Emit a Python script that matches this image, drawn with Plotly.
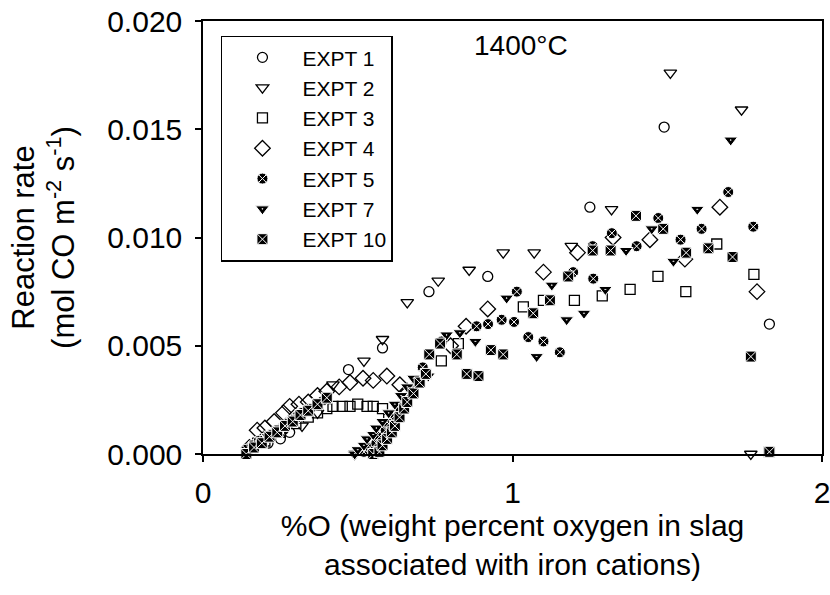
import plotly.graph_objects as go

# ---- data ----
x1 = [0.21, 0.25, 0.28, 0.47, 0.56, 0.58, 0.73, 0.92, 1.25, 1.49, 1.83]
y1 = [0.0005, 0.0007, 0.0010, 0.0039, 0.0003, 0.0049, 0.0075, 0.0082, 0.0114, 0.0151, 0.0060]

x2 = [0.18, 0.23, 0.27, 0.32, 0.37, 0.42, 0.49, 0.52, 0.55, 0.58, 0.66, 0.76, 0.86, 0.97, 1.07, 1.19, 1.32, 1.51, 1.74, 1.77]
y2 = [0.0006, 0.0009, 0.0012, 0.0013, 0.0019, 0.0032, 0.0000, 0.0043, 0.0002, 0.0053, 0.0070, 0.0080, 0.0085, 0.0093, 0.0093, 0.0096, 0.0113, 0.0176, 0.0159, 0.0000]

x3 = [0.20, 0.25, 0.30, 0.34, 0.37, 0.40, 0.42, 0.45, 0.475, 0.50, 0.53, 0.55, 0.58, 0.60, 0.77, 0.825, 1.035, 1.10, 1.20, 1.29, 1.38, 1.47, 1.56, 1.66, 1.78, 1.83]
y3 = [0.0006, 0.0010, 0.0014, 0.0017, 0.0019, 0.0021, 0.0022, 0.0022, 0.0022, 0.0023, 0.0022, 0.0022, 0.0021, 0.0016, 0.0043, 0.0051, 0.0068, 0.0071, 0.0071, 0.0073, 0.0076, 0.0082, 0.0075, 0.0097, 0.0083, 0.0001]

x4 = [0.15, 0.175, 0.20, 0.23, 0.26, 0.28, 0.31, 0.34, 0.37, 0.40, 0.44, 0.475, 0.517, 0.55, 0.594, 0.636, 0.66, 0.80, 0.85, 0.92, 1.10, 1.21, 1.325, 1.444, 1.557, 1.67, 1.79]
y4 = [0.0003, 0.0011, 0.0012, 0.0015, 0.0019, 0.0022, 0.0023, 0.0024, 0.0027, 0.0029, 0.0031, 0.0033, 0.0035, 0.0034, 0.0036, 0.0032, 0.0029, 0.0050, 0.0059, 0.0067, 0.0084, 0.0093, 0.0100, 0.0099, 0.0090, 0.0114, 0.0075]

x5 = [0.14, 0.16, 0.18, 0.20, 0.22, 0.24, 0.26, 0.28, 0.30, 0.32, 0.345, 0.37, 0.39,
      0.52, 0.54, 0.56, 0.57, 0.59, 0.60, 0.62, 0.63, 0.65, 0.67, 0.69, 0.71, 0.733, 0.771,
      0.884, 0.921, 0.965, 1.005, 1.014, 1.051, 1.10, 1.153, 1.196, 1.261, 1.259, 1.321,
      1.401, 1.471, 1.543, 1.561, 1.611, 1.697, 1.778]
y5 = [0.0002, 0.0004, 0.0006, 0.0007, 0.0009, 0.0011, 0.0013, 0.0015, 0.0017, 0.0019, 0.0021, 0.0023, 0.0025,
      0.0001, 0.0003, 0.0005, 0.0008, 0.0011, 0.0014, 0.0018, 0.0022, 0.0026, 0.0030, 0.0034, 0.0040, 0.0046, 0.0052,
      0.0059, 0.0060, 0.0062, 0.0061, 0.0075, 0.0054, 0.0052, 0.0047, 0.0084, 0.0081, 0.0096, 0.0102,
      0.0096, 0.0109, 0.0099, 0.0093, 0.0104, 0.0121, 0.0105]

x7 = [0.15, 0.17, 0.19, 0.21, 0.23, 0.25, 0.27, 0.29, 0.31, 0.33, 0.36,
      0.49, 0.50, 0.52, 0.53, 0.55, 0.56, 0.58, 0.60, 0.62, 0.64, 0.66, 0.68, 0.728, 0.787,
      0.83, 0.88, 0.981, 1.078, 1.127, 1.175, 1.231, 1.30, 1.367, 1.45, 1.52, 1.597, 1.705]
y7 = [0.0001, 0.0003, 0.0005, 0.0008, 0.0010, 0.0012, 0.0014, 0.0016, 0.0017, 0.0019, 0.0022,
      0.0000, 0.0002, 0.0004, 0.0007, 0.0009, 0.0012, 0.0015, 0.0019, 0.0023, 0.0027, 0.0031, 0.0035, 0.0036, 0.0055,
      0.0056, 0.0052, 0.0072, 0.0045, 0.0078, 0.0062, 0.0065, 0.0076, 0.0094, 0.0104, 0.0089, 0.0113, 0.0145]

x10 = [0.14, 0.165, 0.19, 0.215, 0.24, 0.265, 0.29, 0.315, 0.34, 0.37, 0.40,
       0.55, 0.57, 0.58, 0.595, 0.61, 0.62, 0.635, 0.65, 0.66, 0.68, 0.70, 0.72, 0.731, 0.766,
       0.82, 0.852, 0.89, 0.93, 0.97, 1.067, 1.121, 1.18, 1.259, 1.317, 1.399, 1.487, 1.561,
       1.633, 1.711, 1.77, 1.83]
y10 = [0.0000, 0.0003, 0.0005, 0.0008, 0.0010, 0.0013, 0.0015, 0.0018, 0.0020, 0.0023, 0.0026,
       0.0000, 0.0001, 0.0004, 0.0007, 0.0010, 0.0013, 0.0017, 0.0021, 0.0024, 0.0028, 0.0033, 0.0037, 0.0046, 0.0051,
       0.0046, 0.0037, 0.0036, 0.0048, 0.0046, 0.0065, 0.0071, 0.0082, 0.0094, 0.0094, 0.0110, 0.0104, 0.0093,
       0.0095, 0.0091, 0.0045, 0.0001]

series_names = ["EXPT 1", "EXPT 2", "EXPT 3", "EXPT 4", "EXPT 5", "EXPT 7", "EXPT 10"]
x_ticks = [0, 1, 2]
y_ticks = [0.000, 0.005, 0.010, 0.015, 0.020]

FONT = "Liberation Sans, Arial, sans-serif"

styles = [
    dict(symbol="circle-open", size=10, color="black", line=dict(color="black", width=1.3)),
    dict(symbol="triangle-down-open", size=11, color="black", line=dict(color="black", width=1.3)),
    dict(symbol="square-open", size=10, color="black", line=dict(color="black", width=1.3)),
    dict(symbol="diamond-open", size=12, color="black", line=dict(color="black", width=1.3)),
    dict(symbol="circle-x", size=11, color="#000000", line=dict(color="white", width=1)),
    dict(symbol="triangle-down-dot", size=12, color="#000000", line=dict(color="white", width=1)),
    dict(symbol="square-x", size=11, color="#000000", line=dict(color="white", width=1)),
]

xs = [x1, x2, x3, x4, x5, x7, x10]
ys = [y1, y2, y3, y4, y5, y7, y10]

fig = go.Figure()
for name, xv, yv, st in zip(series_names, xs, ys, styles):
    fig.add_trace(go.Scatter(x=xv, y=yv, mode="markers", name=name, marker=st, cliponaxis=False))

fig.add_annotation(x=1.027, y=0.01885, xref="x", yref="y", text="1400°C", showarrow=False,
                   font=dict(family=FONT, size=28, color="black"))

fig.update_layout(
    width=830, height=595,
    margin=dict(l=203, r=8, t=21, b=141),
    paper_bgcolor="white", plot_bgcolor="white",
    font=dict(family=FONT, color="black"),
    showlegend=True,
    legend=dict(x=0.029, y=0.966, xanchor="left", yanchor="top",
                bordercolor="black", borderwidth=1.5, bgcolor="white",
                font=dict(family=FONT, size=21, color="black"),
                itemwidth=70, tracegroupgap=0),
    xaxis=dict(range=[0, 2], tickvals=x_ticks, ticktext=[str(v) for v in x_ticks],
               ticks="outside", ticklen=6, tickwidth=1.5, tickcolor="black",
               showline=True, linecolor="black", linewidth=1.5, mirror=True,
               showgrid=False, zeroline=False, ticklabelstandoff=5,
               ticklabeloverflow="allow", automargin=False,
               tickfont=dict(family=FONT, size=30, color="black"),
               title=dict(text="%O (weight percent oxygen in slag<br>associated with iron cations)",
                          font=dict(family=FONT, size=30, color="black"), standoff=0)),
    yaxis=dict(range=[0, 0.020], tickvals=y_ticks, ticktext=["%.3f" % v for v in y_ticks],
               ticks="outside", ticklen=6, tickwidth=1.5, tickcolor="black",
               showline=True, linecolor="black", linewidth=1.5, mirror=True,
               showgrid=False, zeroline=False, ticklabelstandoff=7, automargin=False,
               tickfont=dict(family=FONT, size=30, color="black"),
               title=dict(text="Reaction rate<br>(mol CO m<sup>-2</sup> s<sup>-1</sup>)",
                          font=dict(family=FONT, size=31, color="black"), standoff=23)),
)

fig.write_html("out.html", config={"displayModeBar": False},
               post_script="document.body.style.margin='0px';")
